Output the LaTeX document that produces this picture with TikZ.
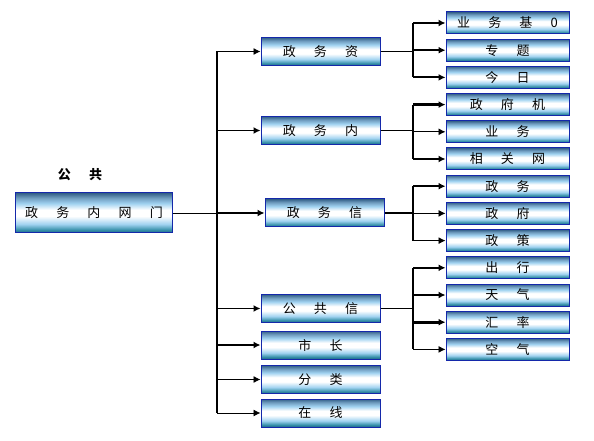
\documentclass[tikz,border=0pt]{standalone}
\usepackage{fontspec}
\newfontfamily\cjk{Noto Sans CJK SC}
\usetikzlibrary{positioning, arrows.meta}

\definecolor{barblue}{RGB}{20,40,170}
\definecolor{bartop}{RGB}{50,95,135}
\definecolor{bargray}{RGB}{110,155,190}
\definecolor{barlight}{RGB}{160,210,240}
\definecolor{barteal}{RGB}{55,145,170}
\definecolor{barbot}{RGB}{30,100,135}
\pgfdeclareverticalshading{barshade}{100bp}{color(0bp)=(barbot); color(25bp)=(barbot); color(29bp)=(barteal); color(36bp)=(barlight); color(46bp)=(white); color(54bp)=(white); color(62bp)=(barlight); color(69bp)=(bargray); color(75bp)=(bartop); color(100bp)=(bartop)}
\newcommand{\gap}{\hspace{1.4em}}

\begin{document}
\begin{tikzpicture}[x=1bp, y=-1bp, >={Latex[length=7bp,width=7bp]},
                    bar/.style = {draw=barblue, line width=1bp, shading=barshade, inner sep=0pt,
                                  font=\cjk\fontsize{13bp}{15bp}\selectfont},
                    rootbar/.style = {bar, minimum width=156bp, minimum height=40bp},
                    midbar/.style = {bar, minimum width=119bp, minimum height=28bp},
                    leafbar/.style = {bar, minimum width=123bp, minimum height=22bp},
                    thinline/.style = {line width=0.9bp},
                    thickline/.style = {line width=1.9bp},
                    on grid, node distance={27.2bp}]
        \useasboundingbox (0,0) rectangle (594,441);
        % root
        \node[font=\cjk\bfseries\fontsize{13bp}{15bp}\selectfont] (gonggong) at (80,175) {公\gap 共};
        \node[rootbar] (portal) at (94,213) {政\gap 务\gap 内\gap 网\gap 门\hspace{10bp}};
        % second level
        \node[midbar] (zwzi) at (320.5,51.5) {政\gap 务\gap 资\hspace{8bp}};
        \node[midbar] (zwnei) at (320.5,130.5) {政\gap 务\gap 内\hspace{8bp}};
        \node[midbar] (zwxin) at (324.5,213) {政\gap 务\gap 信\hspace{8bp}};
        \node[midbar] (ggxin) at (320.5,308.5) {公\gap 共\gap 信\hspace{8bp}};
        \node[midbar] (shizhang) at (320.5,345) {市\gap 长\hspace{8bp}};
        \node[midbar] (fenlei) at (320.5,379.5) {分\gap 类\hspace{8bp}};
        \node[midbar] (zaixian) at (320.5,413) {在\gap 线\hspace{8bp}};
        % third level
        \node[leafbar] (yewuji) at (507.5,23) {业\gap 务\gap 基\gap 0};
        \node[leafbar] (zhuanti) [below=of yewuji] {专\gap 题\hspace{8bp}};
        \node[leafbar] (jinri) [below=of zhuanti] {今\gap 日\hspace{8bp}};
        \node[leafbar] (zhengfuji) [below=of jinri] {政\gap 府\gap 机\hspace{8bp}};
        \node[leafbar] (yewu) [below=of zhengfuji] {业\gap 务\hspace{8bp}};
        \node[leafbar] (xiangguan) [below=of yewu] {相\gap 关\gap 网\hspace{8bp}};
        \node[leafbar] (zhengwu) [below=of xiangguan] {政\gap 务\hspace{8bp}};
        \node[leafbar] (zhengfu) [below=of zhengwu] {政\gap 府\hspace{8bp}};
        \node[leafbar] (zhengce) [below=of zhengfu] {政\gap 策\hspace{8bp}};
        \node[leafbar] (chuxing) [below=of zhengce] {出\gap 行\hspace{8bp}};
        \node[leafbar] (tianqi) [below=of chuxing] {天\gap 气\hspace{8bp}};
        \node[leafbar] (huilv) [below=of tianqi] {汇\gap 率\hspace{8bp}};
        \node[leafbar] (kongqi) [below=of huilv] {空\gap 气\hspace{8bp}};
        \coordinate (trunk) at (217,213);
        \coordinate (fork) at (413,0);
        % trunk
        \draw[thinline] (portal) -- (trunk);
        \draw[line width=2.4bp] (trunk |- zwzi) -- (trunk |- zaixian);
        \draw[->, thinline] (trunk |- zwzi) -- (zwzi);
        \draw[->, thickline] (trunk |- zwnei) -- (zwnei);
        \draw[->, thickline] (trunk) -- (zwxin);
        \draw[->, thickline] (trunk |- ggxin) -- (ggxin);
        \draw[->, thickline] (trunk |- shizhang) -- (shizhang);
        \draw[->, thinline] (trunk |- fenlei) -- (fenlei);
        \draw[->, thinline] (trunk |- zaixian) -- (zaixian);
        % branches
        \draw[thinline] (zwzi) -- (zwzi -| fork);
        \draw[thickline] (fork |- yewuji) -- (fork |- jinri);
        \draw[->, thickline] (fork |- yewuji) -- (yewuji);
        \draw[->, thickline] (fork |- zhuanti) -- (zhuanti);
        \draw[->, thickline] (fork |- jinri) -- (jinri);
        \draw[thickline] (zwnei) -- (zwnei -| fork);
        \draw[thickline] (fork |- zhengfuji) -- (fork |- xiangguan);
        \draw[->, line width=2.6bp] (fork |- zhengfuji) -- (zhengfuji);
        \draw[->, thinline] (fork |- yewu) -- (yewu);
        \draw[->, thickline] (fork |- xiangguan) -- (xiangguan);
        \draw[thickline] (zwxin) -- (zwxin -| fork);
        \draw[thickline] (fork |- zhengwu) -- (fork |- zhengce);
        \draw[->, thickline] (fork |- zhengwu) -- (zhengwu);
        \draw[->, thinline] (fork |- zhengfu) -- (zhengfu);
        \draw[->, thinline] (fork |- zhengce) -- (zhengce);
        \draw[thickline] (ggxin) -- (ggxin -| fork);
        \draw[thickline] (fork |- chuxing) -- (fork |- kongqi);
        \draw[->, thickline] (fork |- chuxing) -- (chuxing);
        \draw[->, thickline] (fork |- tianqi) -- (tianqi);
        \draw[->, line width=2.6bp] (fork |- huilv) -- (huilv);
        \draw[->, thinline] (fork |- kongqi) -- (kongqi);
    \end{tikzpicture}
\end{document}
